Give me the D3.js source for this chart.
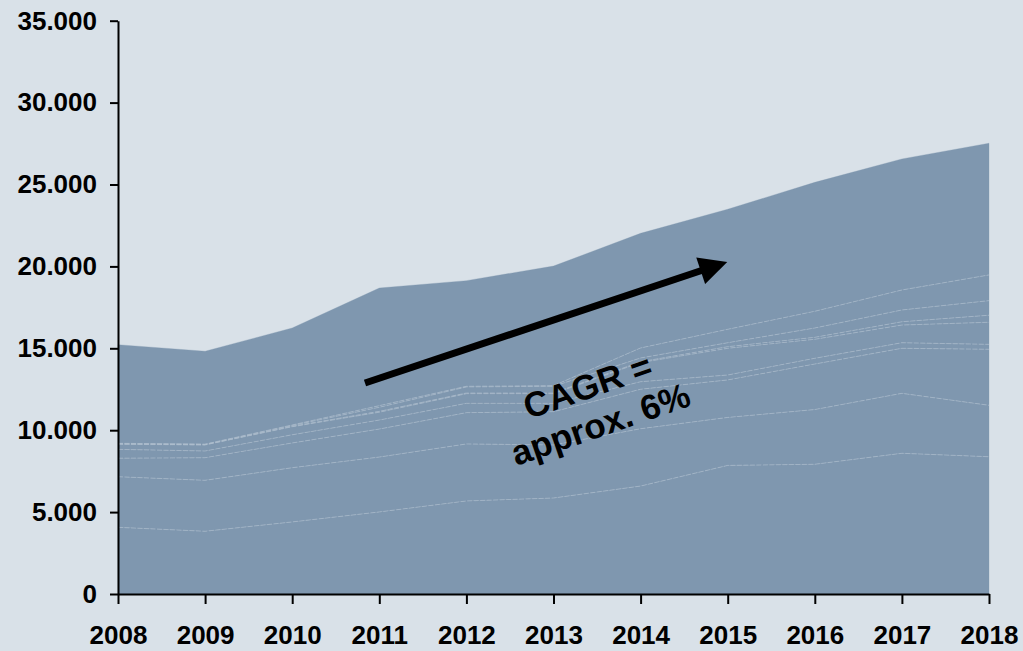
<!DOCTYPE html>
<html>
<head>
<meta charset="utf-8">
<script src="https://cdn.jsdelivr.net/npm/d3@7"></script>
<style>
  html, body { margin: 0; padding: 0; background: #d9e1e8; }
  svg { display: block; }
  text { font-family: "Liberation Sans", Arial, sans-serif; font-weight: bold; }
</style>
</head>
<body>
<svg id="chart" width="1023" height="651"></svg>
<script>
// Years on the horizontal axis
const years = [2008, 2009, 2010, 2011, 2012, 2013, 2014, 2015, 2016, 2017, 2018];

// Stacked segments, bottom to top
const seg1 = [4070, 3830, 4400, 5010, 5680, 5860, 6590, 7850, 7920, 8590, 8380];
const seg2 = [3090, 3110, 3310, 3350, 3480, 3240, 3500, 2930, 3340, 3660, 3140];
const seg3 = [1130, 1380, 1510, 1710, 1910, 2030, 2410, 2290, 2780, 2750, 3420];
const seg4 = [540, 410, 500, 550, 570, 510, 460, 300, 350, 340, 300];
const seg5 = [310, 370, 490, 480, 590, 590, 1170, 1630, 1160, 1080, 1350];
const seg6 = [20, 10, 30, 50, 40, 40, 50, 100, 120, 200, 430];
const seg7 = [20, 20, 40, 250, 370, 410, 230, 240, 570, 720, 890];
const seg8 = [20, 20, 40, 100, 40, 40, 610, 820, 1020, 1220, 1570];
const seg9 = [6020, 5670, 5920, 7180, 6450, 7300, 7000, 7330, 7870, 8000, 8040];

// Value axis ticks
const yTicks = [0, 5000, 10000, 15000, 20000, 25000, 30000, 35000];

// Annotation text
const noteLines = ["CAGR =", "approx. 6%"];

const segments = [seg1, seg2, seg3, seg4, seg5, seg6, seg7, seg8, seg9];
const keys = segments.map((_, i) => "seg" + (i + 1));
const rows = years.map((yr, j) => {
  const r = { year: yr };
  segments.forEach((s, i) => { r[keys[i]] = s[j]; });
  return r;
});

const svg = d3.select("#chart");

const x = d3.scaleLinear().domain([2008, 2018]).range([118, 989]);
const y = d3.scaleLinear().domain([0, 35000]).range([594, 20.7]);

const stacked = d3.stack().keys(keys)(rows);

const area = d3.area()
  .x(d => x(d.data.year))
  .y0(d => y(d[0]))
  .y1(d => y(d[1]));

const line = d3.line()
  .x(d => x(d.data.year))
  .y(d => y(d[1]));

// Filled layers
svg.append("g")
  .selectAll("path")
  .data(stacked)
  .join("path")
  .attr("d", area)
  .attr("fill", "#7f97af")
  .attr("stroke", "#7f97af")
  .attr("stroke-width", 0.3);

// Faint separators between layers
svg.append("g")
  .selectAll("path")
  .data(stacked.slice(0, stacked.length - 1))
  .join("path")
  .attr("d", line)
  .attr("fill", "none")
  .attr("stroke", "#b2c1d0")
  .attr("stroke-width", 0.6)
  .attr("stroke-dasharray", "5,1.5");

// Axes
const fmt = d3.formatLocale({ decimal: ",", thousands: ".", grouping: [3], currency: ["", ""] }).format(",d");

const yAxis = svg.append("g")
  .attr("transform", "translate(118,0)")
  .call(d3.axisLeft(y).tickValues(yTicks).tickFormat(fmt).tickSizeInner(8).tickSizeOuter(0).tickPadding(13));

const xAxis = svg.append("g")
  .attr("transform", "translate(0,594)")
  .call(d3.axisBottom(x).tickValues(years).tickFormat(d3.format("d")).tickSizeInner(10).tickSizeOuter(0).tickPadding(22));

[yAxis, xAxis].forEach(g => {
  g.select(".domain").attr("stroke", "#000").attr("stroke-width", 2);
  g.selectAll(".tick line").attr("stroke", "#000").attr("stroke-width", 2);
  g.selectAll(".tick text")
    .attr("fill", "#000")
    .style("font-size", "26px")
    .style("font-weight", "bold")
    .style("font-family", "'Liberation Sans', Arial, sans-serif");
});

// Growth arrow
const defs = svg.append("defs");
defs.append("marker")
  .attr("id", "head")
  .attr("viewBox", "0 0 10 10")
  .attr("refX", 2)
  .attr("refY", 5)
  .attr("markerWidth", 4.2)
  .attr("markerHeight", 4)
  .attr("markerUnits", "strokeWidth")
  .attr("orient", "auto")
  .append("path")
  .attr("d", "M0,0 L10,5 L0,10 Z")
  .attr("fill", "#000");

svg.append("line")
  .attr("x1", 365).attr("y1", 383)
  .attr("x2", 706).attr("y2", 269)
  .attr("stroke", "#000")
  .attr("stroke-width", 7)
  .attr("marker-end", "url(#head)");

// Annotation
const note = svg.append("g")
  .attr("transform", "translate(594,405) rotate(-19)");
note.selectAll("text")
  .data(noteLines)
  .join("text")
  .attr("x", 0)
  .attr("y", (d, i) => (i - 0.5) * 40)
  .attr("dy", "0.35em")
  .attr("text-anchor", "middle")
  .attr("fill", "#000")
  .style("font-size", "35px")
  .text(d => d);
</script>
</body>
</html>
